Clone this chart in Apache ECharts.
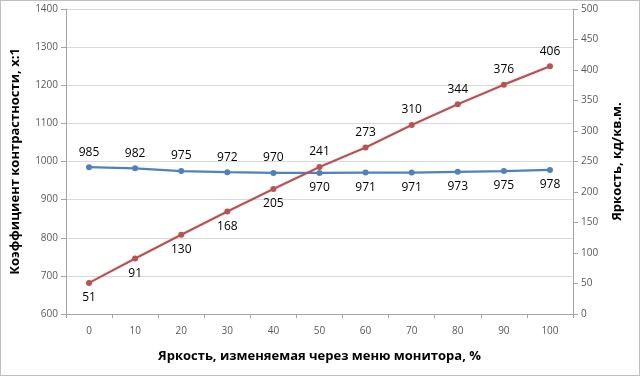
<!DOCTYPE html>
<html><head><meta charset="utf-8">
<script src="https://cdn.jsdelivr.net/npm/echarts@6/dist/echarts.min.js"></script>
<style>html,body{margin:0;padding:0;background:#fff}#c{width:640px;height:376px;box-sizing:border-box;border:1px solid #bfbfbf}</style>
</head><body><div id="c"></div>
<script>
const categories = ['0','10','20','30','40','50','60','70','80','90','100'];
const contrast = [985,982,975,972,970,970,971,971,973,975,978];
const luminance = [51,91,130,168,205,241,273,310,344,376,406];
const contrastLabelPos = ['top','top','top','top','top','bottom','bottom','bottom','bottom','bottom','bottom'];
const luminanceLabelPos = ['bottom','bottom','bottom','bottom','bottom','top','top','top','top','top','top'];

const font = '"Open Sans", "Noto Sans", sans-serif';
const chart = echarts.init(document.getElementById('c'));
chart.setOption({
  animation: false,
  textStyle: {fontFamily: font},
  grid: {left: 62, right: 66, top: 8, bottom: 61, containLabel: false},
  xAxis: {
    type: 'category', data: categories, boundaryGap: true,
    name: 'Яркость, изменяемая через меню монитора, %', nameLocation: 'middle', nameGap: 36,
    nameTextStyle: {fontWeight: 'bold', fontSize: 13, color: '#000', fontFamily: font},
    axisLine: {lineStyle: {color: '#a6a6a6'}},
    axisTick: {show: true, length: 4, lineStyle: {color: '#a6a6a6'}},
    axisLabel: {color: '#595959', fontSize: 10, margin: 12}
  },
  yAxis: [{
    type: 'value', min: 600, max: 1400, interval: 100,
    name: 'Коэффициент контрастности, x:1', nameLocation: 'middle', nameGap: 44, nameRotate: 90,
    nameTextStyle: {fontWeight: 'bold', fontSize: 13, color: '#000', fontFamily: font},
    axisLine: {show: true, lineStyle: {color: '#a6a6a6'}},
    axisTick: {show: true, length: 5, lineStyle: {color: '#a6a6a6'}},
    axisLabel: {color: '#595959', fontSize: 10, margin: 8, formatter: v => String(v)},
    splitLine: {lineStyle: {color: '#d9d9d9', width: 1}}
  }, {
    type: 'value', min: 0, max: 500, interval: 50, position: 'right',
    name: 'Яркость, кд/кв.м.', nameLocation: 'middle', nameGap: 38, nameRotate: 90,
    nameTextStyle: {fontWeight: 'bold', fontSize: 13, color: '#000', fontFamily: font},
    axisLine: {show: true, lineStyle: {color: '#a6a6a6'}},
    axisTick: {show: true, length: 5, lineStyle: {color: '#a6a6a6'}},
    axisLabel: {color: '#595959', fontSize: 10, margin: 8, formatter: v => String(v)},
    splitLine: {show: false}
  }],
  series: [{
    type: 'line', yAxisIndex: 0,
    data: contrast.map((v, i) => ({value: v, label: {position: contrastLabelPos[i]}})),
    symbol: 'circle', symbolSize: 6,
    itemStyle: {color: '#4f81bd'}, lineStyle: {color: '#4f81bd', width: 2.2},
    label: {show: true, color: '#000', fontSize: 12, distance: 6}
  }, {
    type: 'line', yAxisIndex: 1,
    data: luminance.map((v, i) => ({value: v, label: {position: luminanceLabelPos[i]}})),
    symbol: 'circle', symbolSize: 6,
    itemStyle: {color: '#c0504d'}, lineStyle: {color: '#c0504d', width: 2.2},
    label: {show: true, color: '#000', fontSize: 12, distance: 6}
  }]
});
</script></body></html>
